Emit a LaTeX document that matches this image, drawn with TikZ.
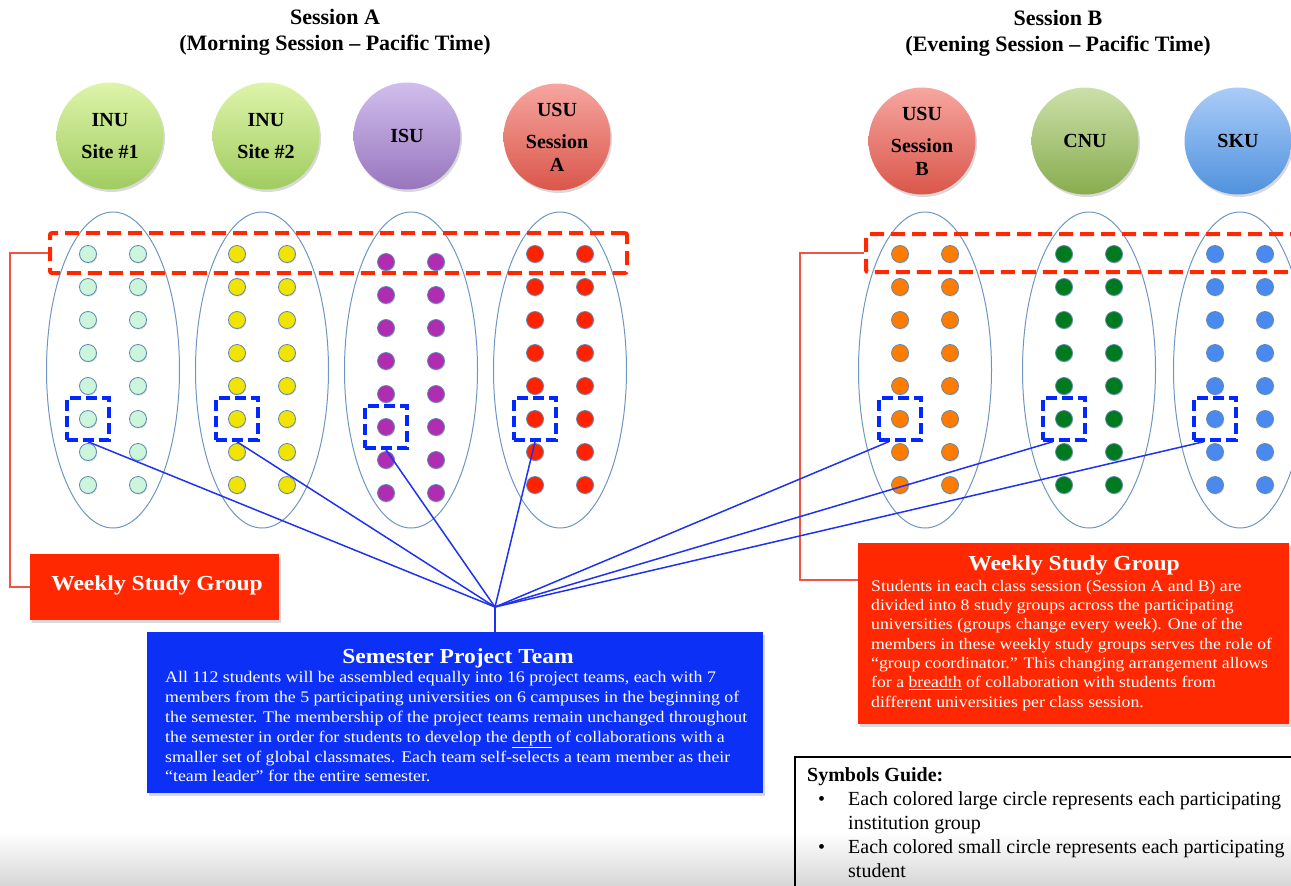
\documentclass[tikz,border=0pt]{standalone}
\usepackage{fontspec}
\setmainfont{Liberation Serif}
\newfontfamily\boxfont{Liberation Serif}[FakeStretch=1.1]
\usetikzlibrary{shadows,calc,shapes.geometric}

% palette
\definecolor{inuTop}{RGB}{222,244,170}
\definecolor{inuBot}{RGB}{160,204,96}
\definecolor{isuTop}{RGB}{208,190,236}
\definecolor{isuBot}{RGB}{152,118,190}
\definecolor{usuTop}{RGB}{246,166,160}
\definecolor{usuBot}{RGB}{218,86,74}
\definecolor{cnuTop}{RGB}{204,224,170}
\definecolor{cnuBot}{RGB}{136,172,78}
\definecolor{skuTop}{RGB}{170,204,248}
\definecolor{skuBot}{RGB}{80,146,222}
\definecolor{mint}{RGB}{204,246,220}
\definecolor{yel}{RGB}{240,228,0}
\definecolor{pur}{RGB}{176,44,176}
\definecolor{redd}{RGB}{255,34,0}
\definecolor{org}{RGB}{255,124,0}
\definecolor{grn}{RGB}{0,122,30}
\definecolor{blu}{RGB}{74,138,240}
\definecolor{dotedge}{RGB}{96,136,176}
\definecolor{grpedge}{RGB}{110,150,192}
\definecolor{wsgred}{RGB}{255,40,0}
\definecolor{linkred}{RGB}{240,84,66}
\definecolor{sptblue}{RGB}{12,48,245}
\definecolor{pickblue}{RGB}{0,40,255}
\definecolor{linkblue}{RGB}{30,50,240}

\begin{document}
\begin{tikzpicture}[x=1pt,y=-1pt,
  title/.style={align=center,font=\bfseries\fontsize{22}{26}\selectfont,inner sep=0pt},
  bigcirc/.style={circle,minimum size=107pt,inner sep=0pt,align=center,
    font=\bfseries\fontsize{20}{23}\selectfont,
    drop shadow={opacity=0.3,shadow xshift=1.5pt,shadow yshift=-2.5pt}},
  grp/.style={ellipse,draw=grpedge,line width=1pt,minimum width=133pt,minimum height=316pt,inner sep=0pt},
  dot/.style={circle,minimum size=17pt,inner sep=0pt,draw=dotedge,line width=0.8pt,
    drop shadow={opacity=0.25,shadow xshift=0.8pt,shadow yshift=-1.2pt}},
  wsgframe/.style={draw=wsgred,line width=4pt,dash pattern=on 14pt off 7pt,rounded corners=2pt,inner sep=0pt},
  pick/.style={draw=pickblue,line width=3.5pt,dash pattern=on 11pt off 5pt,minimum size=42pt,inner sep=0pt},
  link/.style={draw=linkblue,line width=1.5pt},
  redlink/.style={draw=linkred,line width=1.2pt},
  redbox/.style={fill=wsgred,inner sep=0pt,
    drop shadow={opacity=0.3,shadow xshift=2pt,shadow yshift=-2.5pt}},
  bluebox/.style={fill=sptblue,inner sep=0pt,
    drop shadow={opacity=0.3,shadow xshift=2pt,shadow yshift=-2.5pt}},
  boxhead/.style={text=white,font=\boxfont\bfseries\fontsize{21.4}{25}\selectfont,inner sep=0pt},
  boxbody/.style={text=white,align=left,inner sep=0pt},
  guide/.style={font=\fontsize{20}{24}\selectfont,align=left,inner sep=0pt}]

\useasboundingbox (0,0) rectangle (1291,886);
\clip (0,0) rectangle (1291,886);

% soft grey band along the lower edge
\fill[top color=white,bottom color=black!16] (0,832) rectangle (1291,886);

% session headings
\node[title] (sesA) at (335,32) {Session A\\(Morning Session -- Pacific Time)};
\node[title] (sesB) at (1058,33) {Session B\\(Evening Session -- Pacific Time)};

% institution circles
\node[bigcirc,top color=inuTop,bottom color=inuBot] (inu1) at (110,136) {INU\\[9pt]Site \#1};
\node[bigcirc,top color=inuTop,bottom color=inuBot] (inu2) at (266,136) {INU\\[9pt]Site \#2};
\node[bigcirc,top color=isuTop,bottom color=isuBot] (isu)  at (407,136) {ISU};
\node[bigcirc,top color=usuTop,bottom color=usuBot] (usuA) at (557,137) {USU\\[9pt]Session\\A};
\node[bigcirc,top color=usuTop,bottom color=usuBot] (usuB) at (922,141) {USU\\[9pt]Session\\B};
\node[bigcirc,top color=cnuTop,bottom color=cnuBot] (cnu)  at (1085,141) {CNU};
\node[bigcirc,top color=skuTop,bottom color=skuBot] (sku)  at (1238,141) {SKU};

% student groups
\foreach \g/\xa in {1/113,2/262,3/411,4/560,5/925,6/1089,7/1240}
  \node[grp] (grp\g) at (\xa,370) {};

% weekly study group frames
\node[wsgframe,minimum width=577pt,minimum height=40pt] (rectA) at (338.5,253) {};
\node[wsgframe,minimum width=440pt,minimum height=38pt] (rectB) at (1086,253) {};

% students
\foreach \g/\xa/\ya/\col in {1/88/254/mint,2/237/254/yel,3/386/262/pur,4/535/254/redd,
                             5/900/254/org,6/1064/254/grn,7/1215/254/blu}{
  \foreach \r in {1,...,8}{
    \node[dot,fill=\col] (d\g-\r-a) at (\xa,{\ya+33*(\r-1)}) {};
    \node[dot,fill=\col] (d\g-\r-b) at ({\xa+50},{\ya+33*(\r-1)}) {};
  }
  \node[pick] (sq\g) at (d\g-6-a) {};
}

% weekly study group labels
\node[redbox,minimum width=249pt,minimum height=66pt] (wsgA) at (154.5,587) {};
\node[boxhead] (wsgAhead) at (157,585) {Weekly Study Group};

\node[redbox,minimum width=431pt,minimum height=181pt] (wsgB) at (1073.5,633.5) {};
\node[boxhead] (wsgBhead) at (1074,565) {Weekly Study Group};
\node[boxbody,anchor=north west,font=\boxfont\fontsize{16.1}{19.3}\selectfont] (wsgBbody) at (871,580) {Students in each class session (Session A and B) are\\
divided into 8 study groups across the participating\\
universities (groups change every week). One of the\\
members in these weekly study groups serves the role of\\
“group coordinator.” This changing arrangement allows\\
for a \underline{breadth} of collaboration with students from\\
different universities per class session.};

% semester project team
\node[bluebox,minimum width=616pt,minimum height=161pt] (spt) at (455,712.5) {};
\node[boxhead] (spthead) at (458,658) {Semester Project Team};
\node[boxbody,anchor=north west,font=\boxfont\fontsize{16.2}{19.9}\selectfont] (sptbody) at (165,671) {All 112 students will be assembled equally into 16 project teams, each with 7\\
members from the 5 participating universities on 6 campuses in the beginning of\\
the semester. The membership of the project teams remain unchanged throughout\\
the semester in order for students to develop the \underline{depth} of collaborations with a\\
smaller set of global classmates. Each team self-selects a team member as their\\
“team leader” for the entire semester.};

% connectors: frames to their labels
\coordinate (tapB) at (858,580);
\draw[redlink] (rectA.west) -- ++(-38,0) |- (wsgA.west);
\draw[redlink] (rectB.west) -- ++(-64,0) |- (tapB);

% connectors: picked students to the project team
\coordinate (hub) at (495,607);
\foreach \g in {1,2,3,4}
  \draw[link] (sq\g.south) -- (hub);
\foreach \g in {5,6,7}
  \draw[link] ($(sq\g.south)!0.5!(sq\g.south west)$) -- (hub);
\draw[link] (hub) -- (hub |- spt.north);

% symbols guide
\node[draw=black,line width=1.8pt,minimum width=520pt,minimum height=150pt,inner sep=0pt] (guidebox) at (1055,832) {};
\node[guide,anchor=north west] (guidetext) at (807,767) {\textbf{Symbols Guide:}\\
\hspace*{11pt}\makebox[30pt][l]{•}Each colored large circle represents each participating\\
\hspace*{41pt}institution group\\
\hspace*{11pt}\makebox[30pt][l]{•}Each colored small circle represents each participating\\
\hspace*{41pt}student};

\end{tikzpicture}
\end{document}
